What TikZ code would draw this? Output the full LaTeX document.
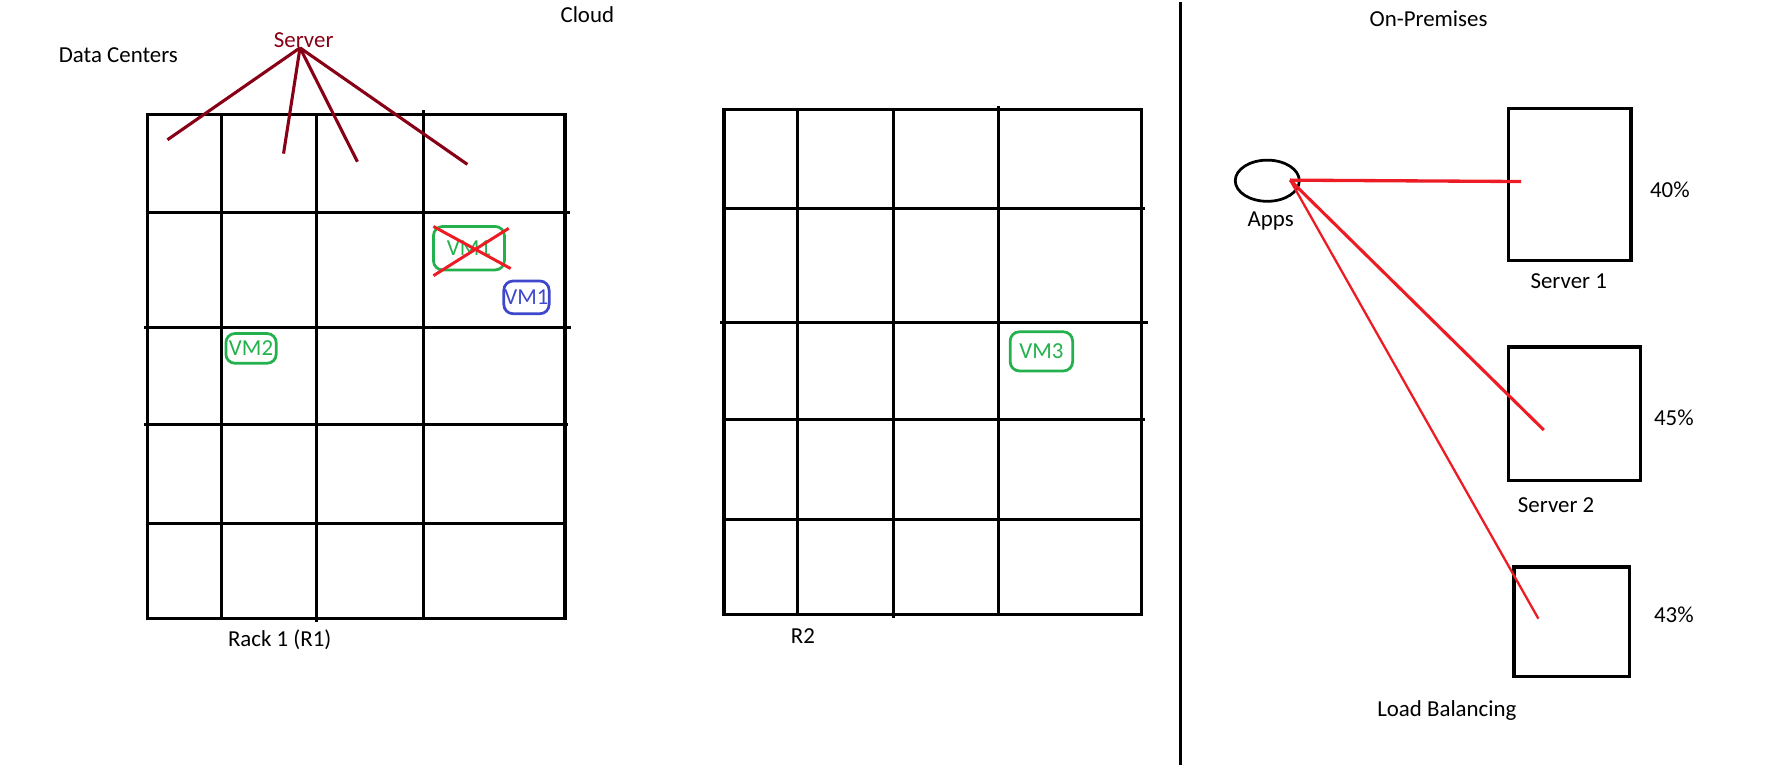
\documentclass[tikz,border=0pt]{standalone}
\usepackage{fontspec}
\setmainfont{Carlito}
\usepackage{tikz}
\usetikzlibrary{shapes.geometric}
\definecolor{paintdarkred}{HTML}{880015}
\definecolor{paintgreen}{HTML}{22B14C}
\definecolor{paintblue}{HTML}{3F48CC}
\definecolor{paintred}{HTML}{ED1C24}

\begin{document}
\begin{tikzpicture}[x=0.5pt,y=-0.5pt,
        rack/.style={line width=1.4pt,line cap=rect},
        srvline/.style={draw=paintdarkred,line width=1.35pt},
        vm/.style={draw=paintgreen,text=paintgreen,rounded corners=4pt,line width=1.2pt,inner sep=0pt},
        srvbox/.style={draw,line width=1.4pt,inner sep=0pt},
        lbline/.style={draw=paintred,line width=1.35pt},
        lbl/.style={inner sep=0pt}]
      \useasboundingbox (0,0) rectangle (1565,671);

      \draw[rack] (129,100) rectangle (494,541);
      \foreach \gx/\gs/\ge in {194/100/541,277/100/542.6,370/98/541}
        \draw[rack] (\gx,\gs) -- (\gx,\ge);
      \foreach \gy/\gs/\ge in {186/129/497,286/127/498,371/127.5/495.5,458/129/494}
        \draw[rack] (\gs,\gy) -- (\ge,\gy);

      \draw[rack] (633,96) rectangle (998,537);
      \foreach \gx/\gs/\ge in {697/96/537,781/96/538.5,873/94/537}
        \draw[rack] (\gx,\gs) -- (\gx,\ge);
      \foreach \gy/\gs/\ge in {182/633/999.5,282/630.7/1002.4,367/633.5/999.5,454/633/998}
        \draw[rack] (\gs,\gy) -- (\ge,\gy);

      \node[lbl]                  (cloud)  at (513.5,13)  {Cloud};
      \node[lbl]                  (dc)     at (103.5,48)  {Data Centers};
      \node[lbl,text=paintdarkred] (srvtxt) at (265.5,35) {Server};
      \node[lbl]                  (r_1)    at (244.5,559) {Rack 1 (R1)};
      \node[lbl]                  (r_2)    at (702,556)   {R2};

      \coordinate (hub) at (262.3,41.8);
      \foreach \n/\px/\py in {1/146.4/122.2,2/247.9/134.3,3/312.5/141.4,4/408.6/143.7}
        \coordinate (rk_\n) at (\px,\py);
      \foreach \n in {1,...,4}
        \draw[srvline] (hub) -- (rk_\n);

      \node[vm,minimum width=31pt,minimum height=19pt]     (vm_1)  at (410,217)     {VM1};
      \node[vm,draw=paintblue,text=paintblue,minimum width=19.8pt,minimum height=14.3pt] (vm_1b) at (460.3,260) {VM1};
      \node[vm,minimum width=22pt,minimum height=13pt]     (vm_2)  at (219.5,304.6) {VM2};
      \node[vm,minimum width=27.3pt,minimum height=17.1pt] (vm_3)  at (910.5,307.2) {VM3};
      \draw[draw=paintred,line width=1.3pt] (379,198) -- (446.5,234.8) (379,241) -- (444.8,199.6);

      \draw[line width=1.4pt] (1032,2) -- (1032,669);

      \node[lbl] (onprem) at (1249,16) {On-Premises};
      \node[draw,ellipse,line width=1.2pt,minimum width=28pt,minimum height=18pt,inner sep=0pt] (apps) at (1108,158) {};
      \node[lbl] (appstxt) at (1111,193) {Apps};

      \node[srvbox,minimum width=53.5pt,minimum height=66.5pt] (srv_1) at (1372.5,161.5) {};
      \node[srvbox,minimum width=57.5pt,minimum height=58.5pt] (srv_2) at (1376.5,361.9) {};
      \node[srvbox,minimum width=50.7pt,minimum height=47.8pt] (srv_3) at (1374.3,543.5) {};
      \node[lbl] (s1txt) at (1371.5,246)   {Server 1};
      \node[lbl] (s2txt) at (1360.5,441.5) {Server 2};
      \node[lbl] (p_1)   at (1460,166)     {40\%};
      \node[lbl] (p_2)   at (1463.5,365)   {45\%};
      \node[lbl] (p_3)   at (1463.5,537.5) {43\%};
      \node[lbl] (lbtxt) at (1265,621)     {Load Balancing};

      \coordinate (tip)  at (1128,157.5);
      \coordinate (in_1) at (1330,158.7);
      \coordinate (in_2) at (1349.8,376);
      \coordinate (in_3) at (1345,540.9);
      \path[lbline] (in_1) edge [line width=1.45pt] (tip)
                    (in_2) edge (tip)
                    (in_3) edge [line width=1.0pt] (tip);
    \end{tikzpicture}
\end{document}
